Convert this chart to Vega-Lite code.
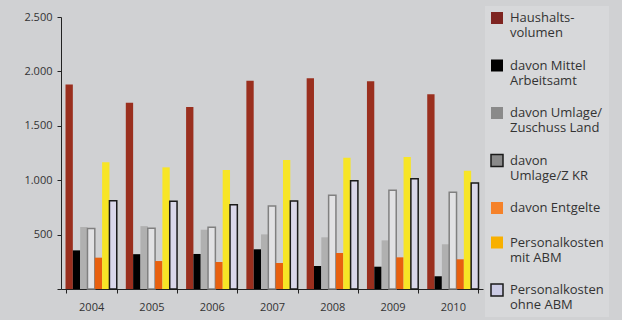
{
  "$schema": "https://vega.github.io/schema/vega-lite/v6.json",
  "width": 422,
  "height": 272,
  "autosize": "none",
  "padding": {"left": 61, "top": 17, "right": 139, "bottom": 31},
  "background": "#d0d1d3",
  "datasets": {
    "budget": [
      {"year": "2004", "series": "Haushalts-\nvolumen", "value": 1880},
      {"year": "2004", "series": "davon Mittel\nArbeitsamt", "value": 355},
      {"year": "2004", "series": "davon Umlage/\nZuschuss Land", "value": 570},
      {"year": "2004", "series": "davon\nUmlage/Z KR", "value": 555},
      {"year": "2004", "series": "davon Entgelte", "value": 288},
      {"year": "2004", "series": "Personalkosten\nmit ABM", "value": 1165},
      {"year": "2004", "series": "Personalkosten\nohne ABM", "value": 812},
      {"year": "2005", "series": "Haushalts-\nvolumen", "value": 1712},
      {"year": "2005", "series": "davon Mittel\nArbeitsamt", "value": 320},
      {"year": "2005", "series": "davon Umlage/\nZuschuss Land", "value": 578},
      {"year": "2005", "series": "davon\nUmlage/Z KR", "value": 558},
      {"year": "2005", "series": "davon Entgelte", "value": 257},
      {"year": "2005", "series": "Personalkosten\nmit ABM", "value": 1118},
      {"year": "2005", "series": "Personalkosten\nohne ABM", "value": 806},
      {"year": "2006", "series": "Haushalts-\nvolumen", "value": 1673},
      {"year": "2006", "series": "davon Mittel\nArbeitsamt", "value": 322},
      {"year": "2006", "series": "davon Umlage/\nZuschuss Land", "value": 545},
      {"year": "2006", "series": "davon\nUmlage/Z KR", "value": 567},
      {"year": "2006", "series": "davon Entgelte", "value": 248},
      {"year": "2006", "series": "Personalkosten\nmit ABM", "value": 1094},
      {"year": "2006", "series": "Personalkosten\nohne ABM", "value": 775},
      {"year": "2007", "series": "Haushalts-\nvolumen", "value": 1915},
      {"year": "2007", "series": "davon Mittel\nArbeitsamt", "value": 365},
      {"year": "2007", "series": "davon Umlage/\nZuschuss Land", "value": 502},
      {"year": "2007", "series": "davon\nUmlage/Z KR", "value": 763},
      {"year": "2007", "series": "davon Entgelte", "value": 239},
      {"year": "2007", "series": "Personalkosten\nmit ABM", "value": 1186},
      {"year": "2007", "series": "Personalkosten\nohne ABM", "value": 809},
      {"year": "2008", "series": "Haushalts-\nvolumen", "value": 1936},
      {"year": "2008", "series": "davon Mittel\nArbeitsamt", "value": 211},
      {"year": "2008", "series": "davon Umlage/\nZuschuss Land", "value": 475},
      {"year": "2008", "series": "davon\nUmlage/Z KR", "value": 861},
      {"year": "2008", "series": "davon Entgelte", "value": 331},
      {"year": "2008", "series": "Personalkosten\nmit ABM", "value": 1207},
      {"year": "2008", "series": "Personalkosten\nohne ABM", "value": 995},
      {"year": "2009", "series": "Haushalts-\nvolumen", "value": 1909},
      {"year": "2009", "series": "davon Mittel\nArbeitsamt", "value": 205},
      {"year": "2009", "series": "davon Umlage/\nZuschuss Land", "value": 447},
      {"year": "2009", "series": "davon\nUmlage/Z KR", "value": 907},
      {"year": "2009", "series": "davon Entgelte", "value": 291},
      {"year": "2009", "series": "Personalkosten\nmit ABM", "value": 1213},
      {"year": "2009", "series": "Personalkosten\nohne ABM", "value": 1014},
      {"year": "2010", "series": "Haushalts-\nvolumen", "value": 1789},
      {"year": "2010", "series": "davon Mittel\nArbeitsamt", "value": 117},
      {"year": "2010", "series": "davon Umlage/\nZuschuss Land", "value": 411},
      {"year": "2010", "series": "davon\nUmlage/Z KR", "value": 889},
      {"year": "2010", "series": "davon Entgelte", "value": 273},
      {"year": "2010", "series": "Personalkosten\nmit ABM", "value": 1087},
      {"year": "2010", "series": "Personalkosten\nohne ABM", "value": 974}
    ]
  },
  "data": {"name": "budget"},
  "encoding": {
    "x": {
      "field": "year",
      "type": "nominal",
      "scale": {"paddingInner": 0.15, "paddingOuter": 0.075},
      "axis": {
        "title": null,
        "labelAngle": 0,
        "tickBand": "extent",
        "tickSize": 4,
        "labelPadding": 8,
        "domainColor": "#222222",
        "tickColor": "#222222",
        "labelColor": "#333333",
        "labelFont": "Open Sans",
        "labelFontSize": 11
      }
    },
    "xOffset": {
      "field": "series",
      "type": "nominal",
      "sort": null,
      "scale": {
        "domain": ["Haushalts-\nvolumen", "davon Mittel\nArbeitsamt", "davon Umlage/\nZuschuss Land", "davon\nUmlage/Z KR", "davon Entgelte", "Personalkosten\nmit ABM", "Personalkosten\nohne ABM"],
        "paddingInner": 0,
        "paddingOuter": 0
      }
    },
    "y": {
      "field": "value",
      "type": "quantitative",
      "scale": {"domain": [0, 2500], "nice": false},
      "axis": {
        "title": null,
        "grid": false,
        "values": [0, 500, 1000, 1500, 2000, 2500],
        "labelExpr": "datum.value === 0 ? '' : replace(format(datum.value, ','), ',', '.')",
        "tickSize": 4,
        "labelPadding": 5,
        "domainColor": "#222222",
        "tickColor": "#222222",
        "labelColor": "#333333",
        "labelFont": "Open Sans",
        "labelFontSize": 11
      }
    }
  },
  "layer": [
    {
      "mark": {"type": "bar", "strokeWidth": 1.5},
      "encoding": {
        "fill": {
          "field": "series",
          "type": "nominal",
          "scale": {
            "domain": ["Haushalts-\nvolumen", "davon Mittel\nArbeitsamt", "davon Umlage/\nZuschuss Land", "davon\nUmlage/Z KR", "davon Entgelte", "Personalkosten\nmit ABM", "Personalkosten\nohne ABM"],
            "range": ["#9a2f1e", "#000000", "#b0b0b0", "#e2e2e4", "#e8600f", "#f7e526", "#d9d7ea"]
          },
          "legend": null
        },
        "stroke": {
          "condition": [
            {"test": "datum.series === 'davon\\nUmlage/Z KR'", "value": "#808080"},
            {"test": "datum.series === 'Personalkosten\\nohne ABM'", "value": "#1a1a1a"}
          ],
          "value": null
        }
      }
    },
    {
      "mark": {"type": "bar", "opacity": 0},
      "encoding": {
        "fill": {
          "field": "series",
          "type": "nominal",
          "scale": {
            "domain": ["Haushalts-\nvolumen", "davon Mittel\nArbeitsamt", "davon Umlage/\nZuschuss Land", "davon\nUmlage/Z KR", "davon Entgelte", "Personalkosten\nmit ABM", "Personalkosten\nohne ABM"],
            "range": ["#7e2421", "#000000", "#8a8a8a", "#8a8a8a", "#f5822a", "#f8b000", "#cbcbe4"]
          },
          "legend": {
            "title": null,
            "orient": "none",
            "legendX": 424,
            "legendY": -11,
            "padding": 5,
            "fillColor": "#d7d8da",
            "symbolType": "square",
            "symbolSize": 144,
            "symbolStrokeWidth": 1.5,
            "symbolOpacity": 1,
            "labelOffset": 6,
            "rowPadding": 16.5,
            "labelFont": "Open Sans",
            "labelFontSize": 13,
            "labelColor": "#333333",
            "labelLimit": 200,
            "labelExpr": "split(datum.label, '\\n')",
            "encode": {"labels": {"lineHeight": {"value": 18.5}}}
          }
        },
        "stroke": {
          "field": "series",
          "type": "nominal",
          "scale": {
            "domain": ["Haushalts-\nvolumen", "davon Mittel\nArbeitsamt", "davon Umlage/\nZuschuss Land", "davon\nUmlage/Z KR", "davon Entgelte", "Personalkosten\nmit ABM", "Personalkosten\nohne ABM"],
            "range": ["transparent", "transparent", "transparent", "#1a1a1a", "transparent", "transparent", "#1a1a1a"]
          },
          "legend": {
            "title": null,
            "orient": "none",
            "legendX": 424,
            "legendY": -11,
            "padding": 5,
            "fillColor": "#d7d8da",
            "symbolType": "square",
            "symbolSize": 144,
            "symbolStrokeWidth": 1.5,
            "symbolOpacity": 1,
            "labelOffset": 6,
            "rowPadding": 16.5,
            "labelFont": "Open Sans",
            "labelFontSize": 13,
            "labelColor": "#333333",
            "labelLimit": 200,
            "labelExpr": "split(datum.label, '\\n')",
            "encode": {"labels": {"lineHeight": {"value": 18.5}}}
          }
        }
      }
    }
  ],
  "resolve": {
    "scale": {"fill": "independent", "stroke": "independent"},
    "legend": {"fill": "independent", "stroke": "independent"}
  },
  "config": {
    "view": {"stroke": null},
    "font": "Open Sans"
  }
}
